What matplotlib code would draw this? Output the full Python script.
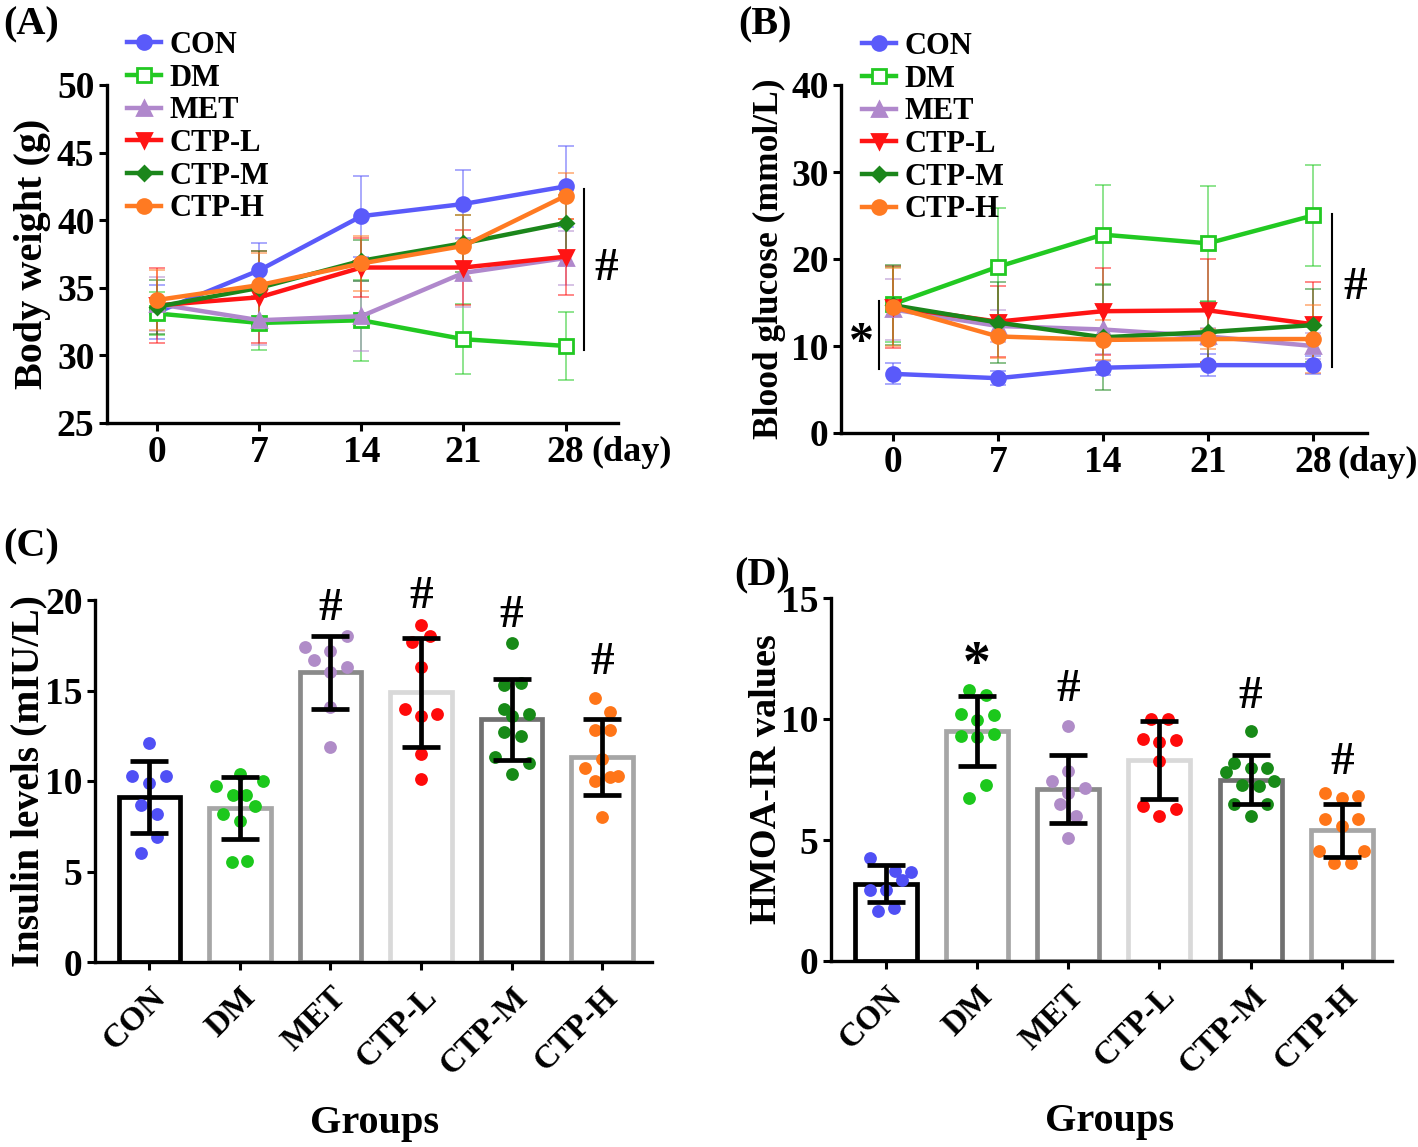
import matplotlib
matplotlib.use("Agg")
import matplotlib.pyplot as plt
import matplotlib.transforms as mtransforms
from matplotlib.lines import Line2D
import numpy as np

plt.rcParams['font.family'] = ['Liberation Serif', 'DejaVu Serif']
plt.rcParams['font.weight'] = 'bold'
plt.rcParams['axes.labelweight'] = 'bold'

# ---------------- data ----------------
groups = ["CON", "DM", "MET", "CTP-L", "CTP-M", "CTP-H"]
days = [0, 7, 14, 21, 28]

bw_mean = {
    "CON":   [33.2, 36.3, 40.3, 41.2, 42.5],
    "DM":    [33.1, 32.4, 32.6, 31.2, 30.7],
    "MET":   [33.8, 32.6, 32.9, 36.1, 37.2],
    "CTP-L": [33.7, 34.3, 36.5, 36.5, 37.3],
    "CTP-M": [33.6, 35.0, 37.0, 38.3, 39.8],
    "CTP-H": [34.1, 35.2, 36.8, 38.1, 41.8],
}
bw_err = {
    "CON":   [2.0, 2.0, 3.0, 2.5, 3.0],
    "DM":    [1.6, 2.0, 3.0, 2.6, 2.5],
    "MET":   [2.0, 1.8, 2.6, 2.5, 2.0],
    "CTP-L": [2.8, 3.4, 2.2, 2.8, 2.8],
    "CTP-M": [2.0, 2.7, 1.5, 2.1, 2.1],
    "CTP-H": [2.2, 2.4, 2.0, 2.3, 1.7],
}
bg_mean = {
    "CON":   [6.8, 6.3, 7.5, 7.8, 7.8],
    "DM":    [14.8, 19.1, 22.8, 21.8, 25.0],
    "MET":   [14.2, 12.3, 11.9, 11.1, 10.0],
    "CTP-L": [14.5, 12.8, 14.0, 14.1, 12.5],
    "CTP-M": [14.7, 12.7, 11.0, 11.6, 12.4],
    "CTP-H": [14.5, 11.1, 10.7, 10.8, 10.8],
}
bg_err = {
    "CON":   [1.2, 0.8, 0.8, 1.3, 1.0],
    "DM":    [4.3, 6.8, 5.7, 6.6, 5.8],
    "MET":   [3.5, 1.8, 2.8, 1.0, 1.5],
    "CTP-L": [4.7, 4.1, 5.0, 5.9, 4.8],
    "CTP-M": [4.6, 4.6, 6.0, 3.5, 4.2],
    "CTP-H": [4.5, 2.5, 2.3, 1.2, 3.9],
}

ins_mean = [9.1, 8.5, 16.0, 14.9, 13.4, 11.3]
ins_sd   = [2.0, 1.7, 2.0, 3.0, 2.25, 2.1]
ins_pts = [
    [12.1, 10.3, 10.3, 9.9, 8.7, 8.2, 6.9, 6.0],
    [10.4, 9.7, 10.0, 9.2, 9.2, 8.2, 8.6, 7.8, 5.5, 5.6],
    [17.4, 18.0, 17.2, 16.7, 16.3, 16.0, 14.1, 11.9],
    [18.6, 17.7, 18.0, 16.3, 14.0, 13.6, 13.7, 11.5, 10.1],
    [17.6, 15.3, 15.4, 14.0, 13.6, 13.7, 12.7, 12.5, 11.3, 11.0, 10.4],
    [14.6, 13.8, 12.8, 12.8, 11.2, 10.7, 10.3, 10.0, 10.2, 8.0],
]
homa_mean = [3.2, 9.5, 7.1, 8.3, 7.5, 5.4]
homa_sd   = [0.75, 1.45, 1.4, 1.6, 1.0, 1.1]
homa_pts = [
    [4.26, 3.7, 3.67, 2.94, 2.94, 3.36, 2.07, 2.18],
    [11.2, 11.0, 10.2, 10.15, 9.95, 9.3, 9.4, 9.25, 7.27, 6.75],
    [9.7, 7.86, 7.42, 7.13, 6.96, 6.48, 6.0, 5.09],
    [10.0, 10.0, 9.18, 9.14, 9.04, 8.28, 6.4, 6.3, 6.0],
    [9.5, 8.2, 7.97, 7.97, 7.8, 7.28, 7.24, 7.45, 6.48, 6.48, 6.0],
    [6.96, 6.82, 6.72, 5.85, 5.85, 5.57, 4.53, 4.53, 4.05, 4.05],
]

# ---------------- layout / style ----------------
ins_offsets = [
    [0, -0.19, 0.18, 0, -0.09, 0.09, 0.09, -0.09],
    [0, -0.26, 0.26, -0.08, 0.07, -0.19, 0.17, 0, -0.09, 0.08],
    [-0.28, 0.18, 0, -0.18, 0.18, 0, 0, 0],
    [0, -0.1, 0.1, 0, -0.18, 0, 0.18, 0, 0],
    [0, -0.08, 0.1, -0.08, 0, 0.19, -0.08, 0.1, -0.18, 0.19, 0],
    [-0.08, 0.09, -0.08, 0.09, 0, -0.19, 0.18, -0.08, 0.09, 0],
]
homa_offsets = [
    [-0.17, 0.1, 0.28, -0.17, 0, 0.18, -0.09, 0.09],
    [-0.09, 0.1, -0.17, 0.19, 0, -0.17, 0.19, 0, 0.1, -0.09],
    [0, 0, -0.18, 0.18, 0, -0.09, 0.09, 0],
    [-0.09, 0.09, -0.18, 0.18, 0, 0, -0.18, 0.18, 0],
    [0, -0.18, 0, 0.18, -0.27, -0.09, 0.09, 0.26, -0.18, 0.18, 0],
    [-0.18, 0.18, 0, -0.18, 0.18, 0, -0.25, 0.24, -0.09, 0.1],
]

line_colors = {"CON": "#5A5AFA", "DM": "#22C922", "MET": "#B088CC",
               "CTP-L": "#FF1414", "CTP-M": "#1B861B", "CTP-H": "#FF7A22"}
markers = {"CON": "o", "DM": "s", "MET": "^", "CTP-L": "v", "CTP-M": "D", "CTP-H": "o"}
msizes = {"CON": 10, "DM": 10, "MET": 10, "CTP-L": 10, "CTP-M": 7, "CTP-H": 10}
bar_edges = ["#000000", "#A6A6A6", "#8A8A8A", "#D9D9D9", "#707070", "#A6A6A6"]
dot_colors = ["#5050F5", "#1CC81C", "#B08CC8", "#FF0A0A", "#178A17", "#FF7518"]

FS_TICK = 27
FS_LEG = 22
FS_SIG = 34

fig = plt.figure(figsize=(14.18, 11.47), dpi=100)

def style_axes(ax):
    for s in ['top', 'right']:
        ax.spines[s].set_visible(False)
    for s in ['left', 'bottom']:
        ax.spines[s].set_linewidth(2.4)
    ax.tick_params(axis='both', width=2.2, length=6, labelsize=FS_TICK, direction='out', pad=3)
    for lab in ax.get_xticklabels() + ax.get_yticklabels():
        lab.set_fontweight('bold')

def line_panel(ax, means, errs, ylim, yticks, ylabel, fs_lab):
    for g in groups:
        c = line_colors[g]
        ax.errorbar(days, means[g], yerr=errs[g], fmt='none', ecolor=c,
                    elinewidth=1.3, capsize=6, capthick=1.3, alpha=0.55, zorder=2)
    for g in groups:
        c = line_colors[g]
        mfc = 'white' if g == "DM" else c
        ax.plot(days, means[g], color=c, lw=3.2, marker=markers[g], ms=msizes[g],
                mfc=mfc, mec=c, mew=2, zorder=3, label=g)
    ax.set_ylim(*ylim)
    ax.set_yticks(yticks)
    ax.set_xticks(days)
    ax.set_xlim(-3.45, 31.6)
    ax.set_ylabel(ylabel, fontsize=fs_lab, fontweight='bold')
    style_axes(ax)

def day_label(ax, xpos):
    tr = ax.transData + mtransforms.ScaledTranslation(0, -9/72, fig.dpi_scale_trans)
    ax.text(xpos, ax.get_ylim()[0], "(day)", fontsize=26, fontweight='bold',
            ha='left', va='top', transform=tr, clip_on=False)

# Panel A
axA = fig.add_axes([107/1418, 1-423/1147, (618-107)/1418, (423-85)/1147])
line_panel(axA, bw_mean, bw_err, (25, 50), [25, 30, 35, 40, 45, 50], "Body weight (g)", 29)
axA.plot([29.3, 29.3], [30.4, 42.3], color='black', lw=1.5, clip_on=False)
axA.text(30.8, 36.4, "#", fontsize=FS_SIG, ha='center', va='center', fontweight='bold')
day_label(axA, 29.8)
axA.yaxis.set_label_coords(-0.11, 0.5)

# Panel B
axB = fig.add_axes([841/1418, 1-433/1147, (1367-841)/1418, (433-85)/1147])
line_panel(axB, bg_mean, bg_err, (0, 40), [0, 10, 20, 30, 40], "Blood glucose (mmol/L)", 25.5)
axB.plot([-0.95, -0.95], [7.4, 15.2], color='black', lw=1.5, clip_on=False)
axB.text(-2.1, 10.2, "*", fontsize=36, ha='center', va='center', fontweight='bold')
axB.plot([29.3, 29.3], [7.6, 25.2], color='black', lw=1.5, clip_on=False)
axB.text(30.8, 16.7, "#", fontsize=FS_SIG, ha='center', va='center', fontweight='bold')
day_label(axB, 29.6)
axB.yaxis.set_label_coords(-0.105, 0.5)

# Legends
def make_handles():
    hs = []
    for g in groups:
        c = line_colors[g]
        mfc = 'white' if g == "DM" else c
        hs.append(Line2D([], [], color=c, lw=3.2, marker=markers[g], ms=msizes[g],
                         mfc=mfc, mec=c, mew=2))
    return hs

leg_kw = dict(frameon=False, handlelength=1.1, handletextpad=0.3,
              labelspacing=0.12, borderaxespad=0, borderpad=0,
              prop={'weight': 'bold', 'size': FS_LEG})
fig.legend(make_handles(), groups, loc='upper left',
           bbox_to_anchor=(127/1418, 1-31/1147), **leg_kw)
fig.legend(make_handles(), groups, loc='upper left',
           bbox_to_anchor=(862/1418, 1-32/1147), **leg_kw)

def bar_panel(ax, means, sds, pts, offs, ylim, yticks, ylabel, fs_lab):
    x = np.arange(len(groups))
    ax.bar(x, means, width=0.68, facecolor='white', edgecolor=bar_edges, linewidth=3.4, zorder=1)
    for i in range(len(groups)):
        ax.scatter(np.array(offs[i]) + i, pts[i], s=85, color=dot_colors[i], zorder=2,
                   linewidths=0)
    ax.errorbar(x, means, yerr=sds, fmt='none', ecolor='black', elinewidth=3.4,
                capsize=14, capthick=3.4, zorder=3)
    ax.set_xticks(x)
    ax.set_xticklabels(groups, rotation=45, ha='right', rotation_mode='anchor')
    ax.set_ylim(*ylim)
    ax.set_yticks(yticks)
    ax.set_xlim(-0.6, 5.55)
    ax.set_ylabel(ylabel, fontsize=fs_lab, fontweight='bold')
    style_axes(ax)
    ax.tick_params(axis='x', labelsize=24, pad=8)

# Panel C
axC = fig.add_axes([95/1418, 1-962/1147, (652-95)/1418, (962-600)/1147])
bar_panel(axC, ins_mean, ins_sd, ins_pts, ins_offsets, (0, 20), [0, 5, 10, 15, 20],
          "Insulin levels (mIU/L)", 28.5)
for i, y in [(2, 19.5), (3, 20.15), (4, 19.1), (5, 16.5)]:
    axC.text(i, y, "#", fontsize=FS_SIG, ha='center', va='center', fontweight='bold')
axC.yaxis.set_label_coords(-0.085, 0.5)
fig.text(375/1418, 1-1124/1147, "Groups", fontsize=29, fontweight='bold', ha='center', va='center')

# Panel D
axD = fig.add_axes([831/1418, 1-961/1147, (1392-831)/1418, (961-598)/1147])
bar_panel(axD, homa_mean, homa_sd, homa_pts, homa_offsets, (0, 15), [0, 5, 10, 15],
          "HMOA-IR values", 27.5)
axD.text(1, 12.2, "*", fontsize=40, ha='center', va='center', fontweight='bold')
for i, y in [(2, 11.2), (4, 10.9), (5, 8.2)]:
    axD.text(i, y, "#", fontsize=FS_SIG, ha='center', va='center', fontweight='bold')
axD.yaxis.set_label_coords(-0.083, 0.5)
fig.text(1110/1418, 1-1122/1147, "Groups", fontsize=29, fontweight='bold', ha='center', va='center')

# Panel letters
for txt, x, y in [("(A)", 3, 25), ("(B)", 738, 25), ("(C)", 3, 547), ("(D)", 734, 576)]:
    fig.text(x/1418, 1-y/1147, txt, fontsize=29, fontweight='bold', ha='left', va='center')

fig.savefig("out.png", dpi=100)
